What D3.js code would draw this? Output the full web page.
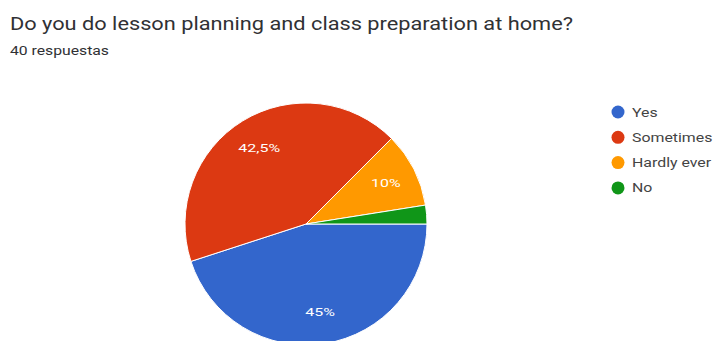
<!DOCTYPE html>
<html>
<head>
<meta charset="utf-8">
<script src="https://cdn.jsdelivr.net/npm/d3@7"></script>
<style>
	body { margin: 0; background: #fff; }
	svg { display: block; font-family: Roboto, Arial, sans-serif; }
</style>
</head>
<body>
<div id="vis"></div>
<script>
// data (40 answers)
var categories = ["Yes", "Sometimes", "Hardly ever", "No"];
var counts = [18, 17, 4, 1];
var pctLabels = ["45%", "42,5%", "10%", ""];
var colors = ["#3366cc", "#dc3912", "#ff9900", "#109618"];

var width = 717;
var height = 341;

var svg = d3.select("#vis")
	.append("svg")
	.attr("width", width)
	.attr("height", height);

// the screenshot text is rendered wider than Roboto, so stretch it a bit
function widen(sel, factor) {
	sel.each(function() {
		var w = this.getComputedTextLength();
		if (w > 0) {
			d3.select(this)
				.attr("textLength", w * factor)
				.attr("lengthAdjust", "spacingAndGlyphs");
		}
	});
}

// title + subtitle
svg.append("text")
	.attr("x", 10)
	.attr("y", 30)
	.attr("fill", "#303134")
	.style("font-size", "18px")
	.text("Do you do lesson planning and class preparation at home?")
	.call(function(s) {
		var w = s.node().getComputedTextLength();
		s.attr("textLength", 563).attr("lengthAdjust", "spacingAndGlyphs");
	});

svg.append("text")
	.attr("x", 10)
	.attr("y", 55)
	.attr("fill", "#303134")
	.style("font-size", "12px")
	.text("40 respuestas")
	.attr("textLength", 99)
	.attr("lengthAdjust", "spacingAndGlyphs");

// pie
var cx = 306, cy = 224, radius = 121;

var nodes = categories.map(function(d, i) {
	return { name: d, value: counts[i], label: pctLabels[i], color: colors[i] };
});

// first slice starts at 3 o'clock, going clockwise
var pie = d3.pie()
	.sort(null)
	.value(function(d) { return d.value; })
	.startAngle(Math.PI / 2)
	.endAngle(Math.PI / 2 + 2 * Math.PI);

var arc = d3.arc().innerRadius(0).outerRadius(radius);
var labelArc = d3.arc().innerRadius(radius * 0.74).outerRadius(radius * 0.74);

var g = svg.append("g")
	.attr("transform", "translate(" + cx + "," + cy + ")");

g.selectAll("path.slice")
	.data(pie(nodes))
	.enter().append("path")
	.classed("slice", true)
	.attr("d", arc)
	.attr("fill", function(d) { return d.data.color; })
	.attr("stroke", "#fff")
	.attr("stroke-width", 1);

g.selectAll("text.pct")
	.data(pie(nodes))
	.enter().append("text")
	.classed("pct", true)
	.attr("transform", function(d) { return "translate(" + labelArc.centroid(d) + ")"; })
	.attr("text-anchor", "middle")
	.attr("dy", "0.35em")
	.attr("fill", "#fff")
	.style("font-size", "11px")
	.text(function(d) { return d.data.label; })
	.call(widen, 1.45);

// legend
var legend = svg.selectAll("g.legend")
	.data(nodes)
	.enter().append("g")
	.classed("legend", true)
	.attr("transform", function(d, i) { return "translate(618," + (112 + i * 25.3) + ")"; });

legend.append("circle")
	.attr("r", 6.5)
	.attr("fill", function(d) { return d.color; });

legend.append("text")
	.attr("x", 14)
	.attr("dy", "0.36em")
	.attr("fill", "#444")
	.style("font-size", "12.5px")
	.text(function(d) { return d.name; })
	.call(widen, 1.27);
</script>
</body>
</html>
